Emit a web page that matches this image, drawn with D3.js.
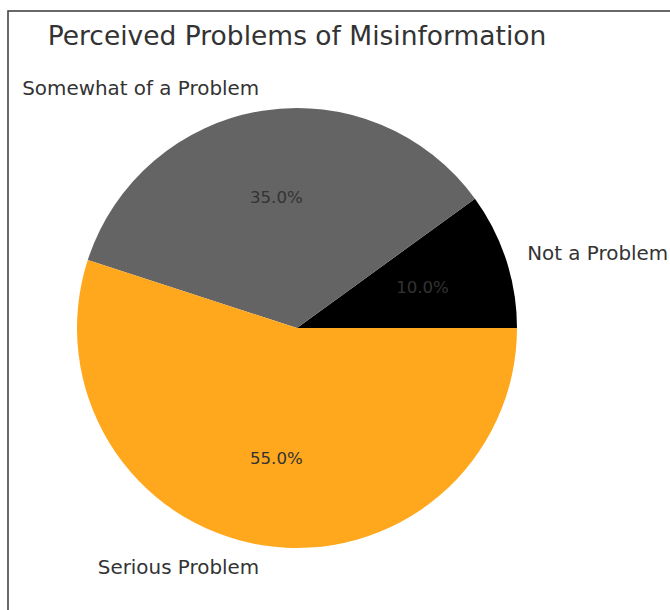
<!DOCTYPE html>
<html>
<head>
<meta charset="utf-8">
<script src="https://cdn.jsdelivr.net/npm/d3@7"></script>
<style>
  html, body { margin: 0; padding: 0; background: #fff; }
  svg { display: block; font-family: "DejaVu Sans", sans-serif; }
</style>
</head>
<body>
<svg id="chart" width="670" height="610"></svg>
<script>
// Survey shares, drawn counter-clockwise from 3 o'clock
const categories = ["Not a Problem", "Somewhat of a Problem", "Serious Problem"];
const shares = [10, 35, 55];
const sliceColors = ["#000000", "#646464", "#FFA81E"];
const titleText = "Perceived Problems of Misinformation";

const width = 670, height = 610;
const cx = 297, cy = 328, radius = 220;

const svg = d3.select("#chart");

// Outer frame
svg.append("rect")
  .attr("x", 8).attr("y", 11)
  .attr("width", 700).attr("height", 700)
  .attr("fill", "none")
  .attr("stroke", "#444")
  .attr("stroke-width", 1.6);

svg.append("text")
  .attr("x", cx).attr("y", 35)
  .attr("text-anchor", "middle")
  .attr("dominant-baseline", "central")
  .attr("font-size", 26.5)
  .attr("fill", "#333")
  .text(titleText);

const data = categories.map((c, i) => ({ label: c, value: shares[i], color: sliceColors[i] }));

// Angles in d3 run clockwise from 12 o'clock; map so slices go counter-clockwise from 3 o'clock
const pie = d3.pie().value(d => d.value).sort(null)
  .startAngle(Math.PI / 2).endAngle(Math.PI / 2 - 2 * Math.PI);
const arcs = pie(data);

const arc = d3.arc().innerRadius(0).outerRadius(radius);

const g = svg.append("g").attr("transform", `translate(${cx},${cy})`);

g.selectAll("path.slice")
  .data(arcs)
  .join("path")
  .attr("class", "slice")
  .attr("d", arc)
  .attr("fill", d => d.data.color);

function pos(d, r) {
  const a = (d.startAngle + d.endAngle) / 2;
  return [r * Math.sin(a), -r * Math.cos(a)];
}

// Percentage labels inside slices
g.selectAll("text.pct")
  .data(arcs)
  .join("text")
  .attr("class", "pct")
  .attr("x", d => pos(d, radius * 0.6)[0])
  .attr("y", d => pos(d, radius * 0.6)[1])
  .attr("text-anchor", "middle")
  .attr("dominant-baseline", "central")
  .attr("font-size", 16.6)
  .attr("fill", "#333")
  .text(d => d3.format(".1f")(d.data.value) + "%");

// Category labels outside the pie
g.selectAll("text.cat")
  .data(arcs)
  .join("text")
  .attr("class", "cat")
  .attr("x", d => pos(d, radius * 1.1)[0])
  .attr("y", d => pos(d, radius * 1.1)[1])
  .attr("text-anchor", d => pos(d, 1)[0] > 0 ? "start" : "end")
  .attr("dominant-baseline", "central")
  .attr("font-size", 19.9)
  .attr("fill", "#333")
  .text(d => d.data.label);
</script>
</body>
</html>
